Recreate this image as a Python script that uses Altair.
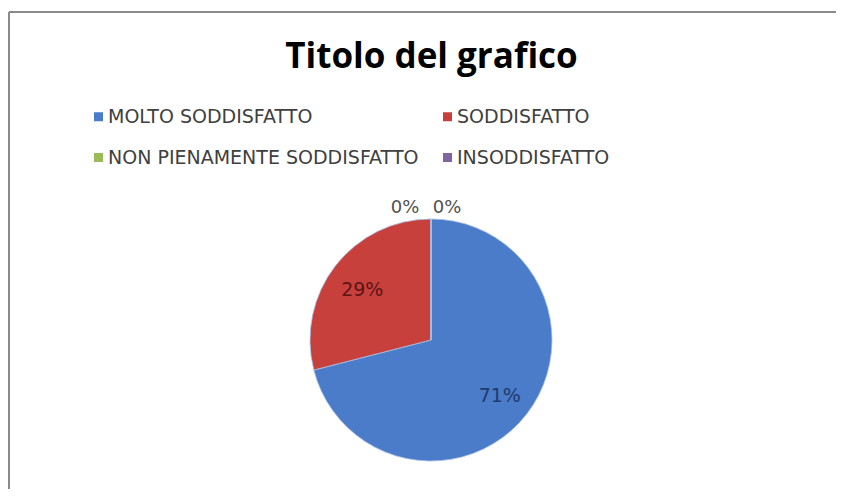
import altair as alt
import pandas as pd

categories = ["MOLTO SODDISFATTO", "SODDISFATTO", "NON PIENAMENTE SODDISFATTO", "INSODDISFATTO"]
values = [71, 29, 0, 0]
labels = ["71%", "29%", "0%", "0%"]
colors = ["#4A7CC9", "#C8403C", "#9BBB59", "#8064A2"]
label_colors = ["#1F3A6E", "#5A1515", "#505050", "#505050"]

df = pd.DataFrame({
    "cat": categories,
    "val": values,
    "lab": labels,
    "order": list(range(len(categories))),
    "lcol": label_colors,
})

theta = alt.Theta("val:Q", stack=True)
order = alt.Order("order:Q")

base = alt.Chart(df).encode(theta=theta, order=order)

# pie centre relative to the centre of the view
CX, CY = 8.5, 89.5

one = pd.DataFrame({"a": [0]})
frame_top = alt.Chart(one).mark_rule(stroke="#8a8a8a", strokeWidth=2).encode(
    x=alt.value(0), x2=alt.value("width"), y=alt.value(0)
)
frame_left = alt.Chart(one).mark_rule(stroke="#8a8a8a", strokeWidth=2).encode(
    x=alt.value(0), y=alt.value(0), y2=alt.value("height")
)

arc = base.mark_arc(
    outerRadius=121, xOffset=CX, yOffset=CY, stroke="#a9c0e6", strokeWidth=0.8
).encode(
    color=alt.Color(
        "cat:N",
        scale=alt.Scale(domain=categories, range=colors),
        sort=categories,
        legend=alt.Legend(
            title=None,
            orient="none",
            legendX=80,
            legendY=95,
            columns=2,
            direction="horizontal",
            columnPadding=19,
            rowPadding=21,
            symbolType="square",
            symbolSize=81,
            symbolStrokeWidth=0,
            labelFont="DejaVu Sans",
            labelFontSize=19,
            labelColor="#404040",
            labelOffset=0,
            labelLimit=400,
            padding=0,
        ),
    )
)

main_lab = base.transform_filter(alt.datum.val > 0).mark_text(
    radius=87, xOffset=CX, yOffset=CY, dy=3, font="DejaVu Sans", fontSize=19
).encode(text="lab:N", color=alt.Color("lcol:N", scale=None, legend=None))

zero_a = base.transform_filter(alt.datum.cat == categories[2]).mark_text(
    radius=133, xOffset=CX, yOffset=CY, dx=-26, dy=1, font="DejaVu Sans", fontSize=18, color="#505050"
).encode(text="lab:N")

zero_b = base.transform_filter(alt.datum.cat == categories[3]).mark_text(
    radius=133, xOffset=CX, yOffset=CY, dx=16, dy=1, font="DejaVu Sans", fontSize=18, color="#505050"
).encode(text="lab:N")

chart = alt.layer(frame_top, frame_left, arc, main_lab, zero_a, zero_b).properties(
    width=827,
    height=477,
    autosize=alt.AutoSizeParams(type="none"),
    padding={"left": 1, "top": 4, "right": 0, "bottom": 0},
    title=alt.TitleParams(
        "Titolo del grafico",
        font="Open Sans",
        fontSize=35,
        fontWeight="bold",
        color="#000000",
        anchor="middle",
        offset=-64,
        dx=9,
    ),
).configure_view(stroke=None).configure(background="white")

chart.save("out.html", embed_options={"renderer": "svg", "actions": False})
